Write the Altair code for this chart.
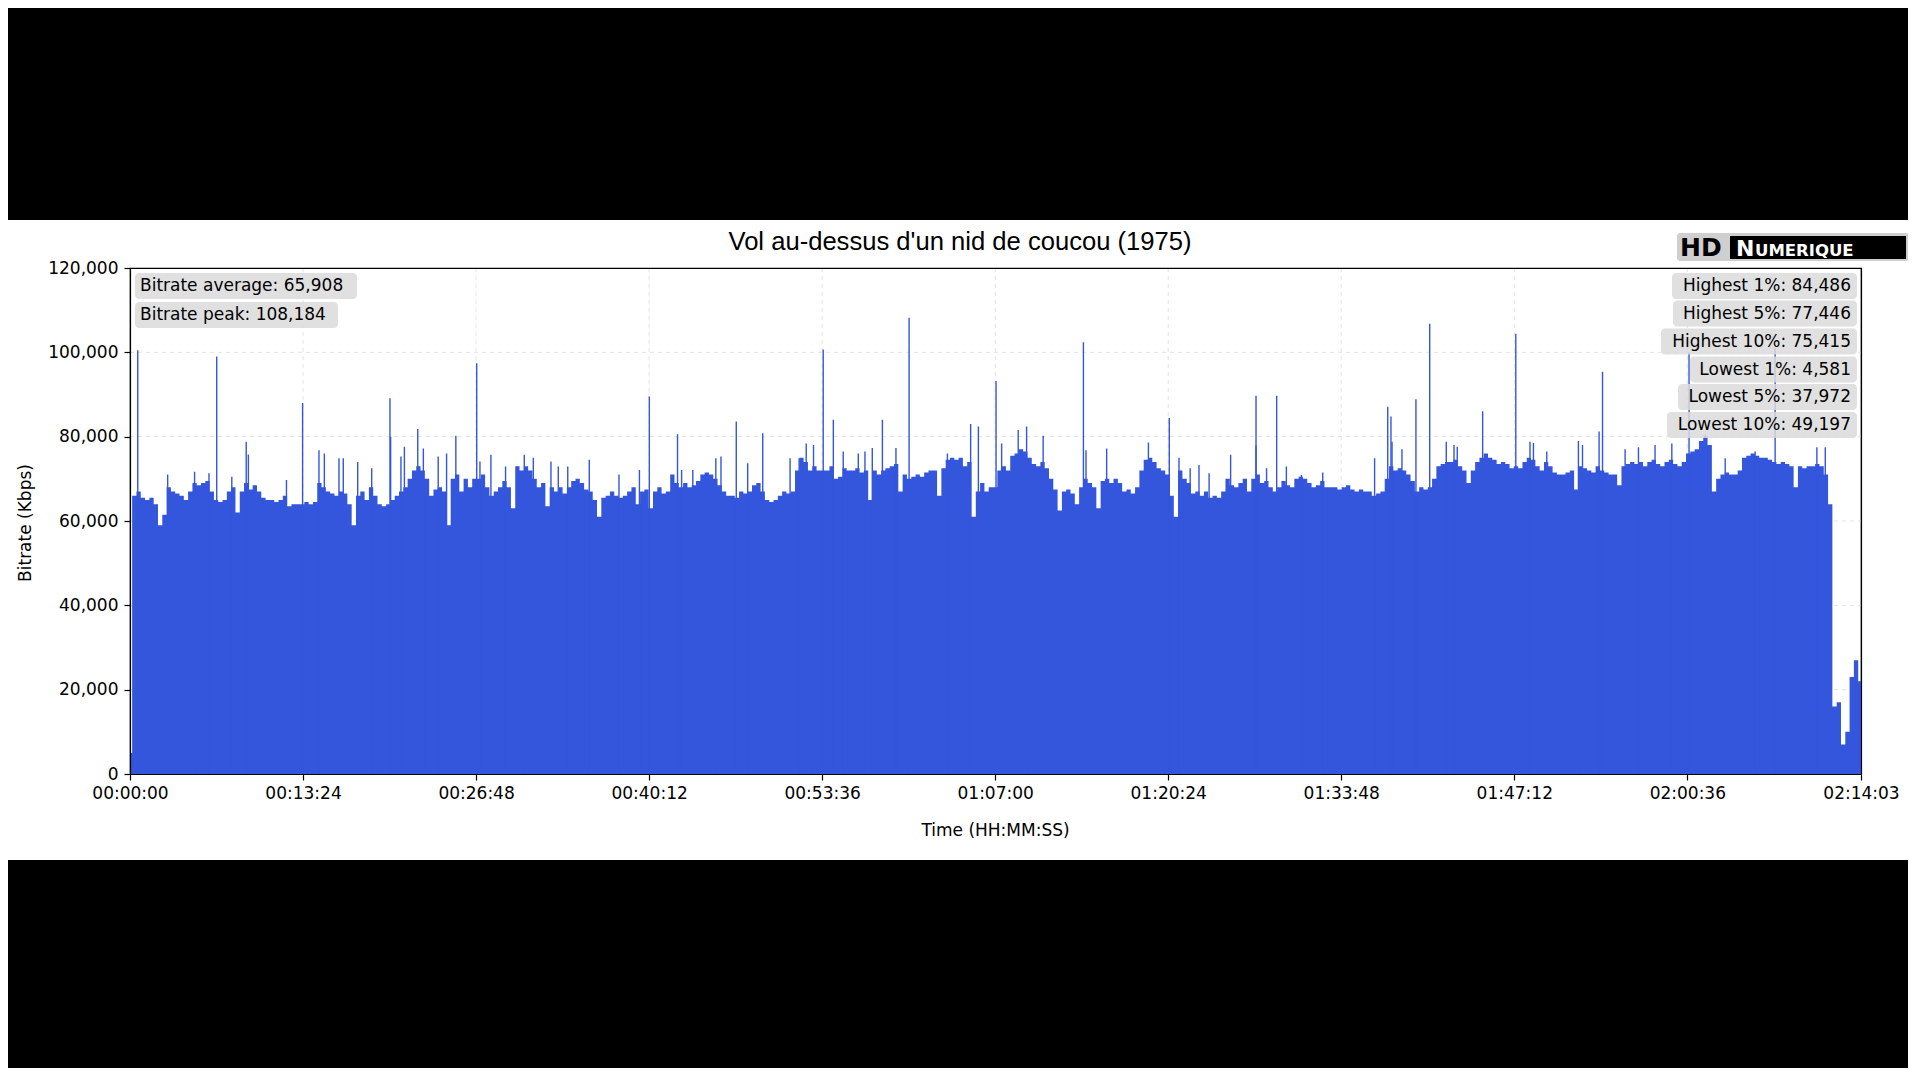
import altair as alt
import pandas as pd

# ---------------- data ----------------
title_text = "Vol au-dessus d'un nid de coucou (1975)"
step_seconds = 20
duration_seconds = 8043

# bitrate (thousands of Kbps) every 20 s
bitrate_k = [
    5, 66, 67, 65.5, 65, 65.5, 64, 59, 61.5, 68,
    67, 66.5, 66, 65, 67, 69, 68.5, 69, 69.5, 67,
    65, 64.5, 65, 67, 68, 62, 67, 69, 67.5, 68.5,
    67, 65.5, 65, 65, 64.5, 65, 66, 63.5, 64, 64,
    64, 64.5, 64, 64.5, 69, 68, 67, 66.5, 66, 67,
    66.5, 64, 59, 66, 67, 65, 68, 66, 64, 63.5,
    64, 65, 66, 67, 68, 70, 72, 73, 72, 70,
    66, 67.5, 68, 67, 59, 70, 71, 67, 70, 68,
    70, 70, 71, 68, 66, 67, 68, 69.5, 68, 63,
    73, 72, 73, 72, 70, 68, 69, 63.5, 68, 67,
    68, 66.5, 68, 69.5, 70, 69, 67.5, 67, 65, 61,
    65.5, 66, 67, 66, 65.5, 66, 67, 68, 64, 67,
    67.5, 63, 67, 68, 66.5, 67, 71, 69, 68, 69,
    68, 68.5, 69.5, 71, 71.5, 71, 70, 68.5, 67, 66,
    66, 65.5, 67, 66.5, 67, 68.5, 69, 67, 65, 64.5,
    65, 66, 67, 66.5, 67, 72, 75, 74, 72, 73,
    72, 72, 72, 73, 70, 70.5, 72.5, 72, 72, 72.5,
    71.5, 72, 65, 72, 71, 72, 72.5, 73, 73.5, 67,
    71, 70, 70.5, 71, 70.5, 71.5, 72, 72, 66, 72.5,
    74.5, 75, 74.5, 75, 73, 74, 61, 67, 69, 67,
    68, 68, 72, 73, 72, 75.5, 76, 77, 76.5, 75,
    73.5, 73, 74, 72.5, 70, 67.5, 62.5, 67, 67.5, 66.5,
    64, 68, 70, 69, 68, 63, 69.5, 70, 69, 70,
    69, 67, 67.5, 66.5, 68, 72, 74.5, 75, 74, 72.5,
    72, 71, 66, 61, 72, 70, 69, 66.5, 67, 66,
    67, 65.5, 66, 65.5, 67, 70, 68.5, 68, 69, 70,
    67, 70, 71, 69, 69.5, 68, 67, 68, 69.5, 68.5,
    68, 70, 70.5, 70, 69, 68, 68.5, 69.5, 68, 68,
    68, 67.5, 68, 68.5, 67.5, 67, 67.5, 67, 67, 66,
    66.5, 67, 70, 73, 72, 72.5, 72, 71, 69.5, 67,
    68, 67.5, 68, 70, 73, 73.5, 74, 74, 74.5, 73,
    72, 69, 72, 74, 75, 76, 75, 74.5, 73.5, 74,
    73.5, 72.5, 73, 72.5, 74, 75, 74.5, 73, 72, 74,
    73, 71.5, 71, 71, 71.5, 72, 67.5, 73, 72.5, 72,
    71.5, 73, 72, 71.5, 71, 71, 68.5, 73, 73.5, 74,
    73.5, 74, 73, 74, 74.5, 73.5, 73, 74, 74.5, 73.5,
    73, 74, 76, 76.5, 77, 79, 80, 78, 67, 70,
    71, 71.5, 71, 71, 72, 75, 75.5, 76, 75.5, 75,
    75, 74.5, 74, 73.5, 74, 73.5, 73, 68, 73, 72.5,
    73, 73, 73.5, 73, 71, 64, 16, 17, 7, 10,
    23, 27, 22, 22,
]

# isolated tall spikes (seconds, thousands of Kbps)
spike_seconds = [36, 403, 802, 1208, 1211, 1611, 2413, 2544, 2817, 2940, 3221,
                 3268, 3496, 3620, 3906, 3942, 4024, 4430, 4829, 5232, 5328,
                 5844, 5859, 5975, 6039, 6285, 6439, 6842, 7244, 7644]
spike_k = [100.5, 99, 88, 89.1, 80, 97.4, 89.5, 80.6, 83.6, 80.8, 100.7,
           84, 84, 108.2, 83, 82.4, 93.2, 102.4, 84.4, 89.7, 89.7,
           87.1, 84.8, 88.9, 106.8, 86, 104.4, 95.4, 100, 101]

# narrower local peaks
peak_seconds = [175, 300, 367, 473, 540, 550, 727, 878, 903, 971, 991, 1058, 1123,
                1259, 1275, 1337, 1363, 1432, 1471, 1514,
                1626, 1677, 1745, 1832, 1874, 1956, 1990, 2034, 2134, 2272, 2367,
                2563, 2615, 2722, 2746, 2870, 3067, 3109, 3142, 3176,
                3314, 3384, 3415, 3449, 3559, 3798, 4050, 4127, 4166, 4243, 4442,
                4538, 4732, 4874, 4926, 4967, 5014, 5114, 5232, 5281, 5373, 5443,
                5542, 5783, 5864, 5910, 6116, 6152, 6167,
                6505, 6521, 6583, 6730, 6749, 6826, 6947, 7009, 7086, 7164, 7319,
                7412, 7551, 7838, 7877]
peak_k = [71, 71.7, 71.3, 70.5, 78.8, 75.8, 69.7, 76.8, 76, 74.9, 74.9, 74, 72.5,
          75.3, 77.6, 81.8, 77.2, 75.3, 76, 80.2,
          74.1, 75.7, 72.9, 75.7, 75, 74.1, 72.9, 72.9, 74.5, 71, 72.1,
          72.1, 72.1, 74.9, 75.3, 73.7, 74.9, 74.9, 78.4, 78,
          76.5, 76, 76.5, 77.3, 77.3, 76, 78.4, 81.6, 82.4, 80.2, 76.8,
          77.2, 78.6, 75, 72.5, 73.3, 71.3, 75.7, 77.9, 72.5, 72.9, 70.9,
          71.5, 74.9, 78.8, 77, 78.8, 78, 77.6,
          78.8, 78.5, 76.5, 79, 78, 81.2, 77, 77.5, 78, 78.4, 80.5,
          74.9, 76.5, 77.5, 77.5]

tick_seconds = [0, 804, 1608, 2412, 3216, 4020, 4824, 5628, 6432, 7236, 8043]
tick_labels = ["00:00:00", "00:13:24", "00:26:48", "00:40:12", "00:53:36",
               "01:07:00", "01:20:24", "01:33:48", "01:47:12", "02:00:36", "02:14:03"]
y_ticks = [0, 20000, 40000, 60000, 80000, 100000, 120000]

left_stats = ["Bitrate average: 65,908", "Bitrate peak: 108,184"]
right_stats = ["Highest 1%: 84,486", "Highest 5%: 77,446", "Highest 10%: 75,415",
               "Lowest 1%: 4,581", "Lowest 5%: 37,972", "Lowest 10%: 49,197"]

# ---------------- layout (page pixels) ----------------
OX, OY = 130, 268          # page position of the plot's top-left corner
W, H = 1731, 506           # plot area
BLUE = "#3456dc"
LABEL_FONT = "DejaVu Sans"
GRID = "#dcdcdc"

left_box_x = (135, [357, 338])
left_box_y = [286, 315]
right_box_left = [1672, 1673, 1661, 1690, 1678, 1667]
right_box_right = 1857
right_box_y = [286, 313.5, 341.5, 369.5, 397, 425]
BOX_H = 26

# ---------------- tables ----------------
series = pd.DataFrame({
    "t": [min(i * step_seconds, duration_seconds) for i in range(len(bitrate_k))],
    "kbps": [v * 1000 for v in bitrate_k],
})
spikes = pd.DataFrame({"t": spike_seconds, "kbps": [v * 1000 for v in spike_k]})
peaks = pd.DataFrame({"t": peak_seconds, "kbps": [v * 1000 for v in peak_k]})

label_expr = " : ".join(
    f"datum.value == {s} ? '{l}'" for s, l in zip(tick_seconds, tick_labels)
) + " : ''"

xscale = alt.Scale(domain=[0, duration_seconds], nice=False, zero=False)
yscale = alt.Scale(domain=[0, 120000], nice=False)

# dashed grid lines, behind the marks
vgrid = alt.Chart(pd.DataFrame({"t": tick_seconds[1:-1]})).mark_rule(
    color=GRID, strokeDash=[4, 4], strokeWidth=0.8).encode(
    x=alt.X("t:Q", scale=xscale, axis=None), y=alt.value(0), y2=alt.value(H))
hgrid = alt.Chart(pd.DataFrame({"kbps": y_ticks[1:-1]})).mark_rule(
    color=GRID, strokeDash=[4, 4], strokeWidth=0.8).encode(
    y=alt.Y("kbps:Q", scale=yscale, axis=None), x=alt.value(0), x2=alt.value(W))

area = alt.Chart(series).mark_area(color=BLUE, interpolate="step", clip=True).encode(
    x=alt.X("t:Q", scale=xscale, axis=None),
    y=alt.Y("kbps:Q", scale=yscale, axis=None),
)

def rules(df, width, xaxis=None, yaxis=None):
    return alt.Chart(df).mark_rule(color=BLUE, strokeWidth=width, clip=True).encode(
        x=alt.X("t:Q", scale=xscale, axis=xaxis),
        y=alt.Y("kbps:Q", scale=yscale, axis=yaxis),
        y2=alt.datum(0),
    )

axis_common = dict(title=None, grid=False, zindex=2, domainColor="black",
                   domainWidth=1.2, tickColor="black", tickWidth=1.2, tickSize=6,
                   labelFont=LABEL_FONT, labelFontSize=17, labelColor="black")

# bottom / left axes, on top of the marks
peak_layer = rules(peaks, 1.4,
                   xaxis=alt.Axis(orient="bottom", values=tick_seconds, labelExpr=label_expr,
                                  labelPadding=5, labelFlush=False, labelOverlap=False,
                                  **axis_common),
                   yaxis=alt.Axis(orient="left", values=y_ticks, format=",d", labelPadding=6,
                                  **axis_common))
# top / right frame lines
frame_common = dict(title=None, grid=False, labels=False, ticks=False, zindex=2,
                    domainColor="black", domainWidth=1.2)
spike_layer = rules(spikes, 1.4,
                    xaxis=alt.Axis(orient="top", **frame_common),
                    yaxis=alt.Axis(orient="right", **frame_common))

# black letterbox bars
bars = alt.Chart(pd.DataFrame({"y": [-OY, 860 - OY], "y2": [220 - OY, 1080 - OY]})).mark_rect(
    color="black").encode(
    x=alt.value(-OX), x2=alt.value(1920 - OX),
    y=alt.Y("y:Q", scale=None, axis=None), y2="y2:Q",
)

# stat boxes
box_rows = []
for i, lab in enumerate(left_stats):
    box_rows.append({"x": left_box_x[0] - OX, "x2": left_box_x[1][i] - OX,
                     "y": left_box_y[i] - BOX_H / 2 - OY, "y2": left_box_y[i] + BOX_H / 2 - OY})
for i, lab in enumerate(right_stats):
    box_rows.append({"x": right_box_left[i] - OX, "x2": right_box_right - OX,
                     "y": right_box_y[i] - BOX_H / 2 - OY, "y2": right_box_y[i] + BOX_H / 2 - OY})
boxes = alt.Chart(pd.DataFrame(box_rows)).mark_rect(
    fill="#dadada", opacity=0.85, cornerRadius=4).encode(
    x=alt.X("x:Q", scale=None, axis=None), x2="x2:Q",
    y=alt.Y("y:Q", scale=None, axis=None), y2="y2:Q",
)

left_text = alt.Chart(pd.DataFrame({
    "label": left_stats, "x": [140 - OX] * len(left_stats),
    "y": [v - OY for v in left_box_y]})).mark_text(
    align="left", baseline="middle", font=LABEL_FONT, fontSize=17, color="black").encode(
    x=alt.X("x:Q", scale=None, axis=None), y=alt.Y("y:Q", scale=None, axis=None), text="label:N")

right_text = alt.Chart(pd.DataFrame({
    "label": right_stats, "x": [1851 - OX] * len(right_stats),
    "y": [v - OY for v in right_box_y]})).mark_text(
    align="right", baseline="middle", font=LABEL_FONT, fontSize=17, color="black").encode(
    x=alt.X("x:Q", scale=None, axis=None), y=alt.Y("y:Q", scale=None, axis=None), text="label:N")

one = pd.DataFrame({"a": [0]})
title = alt.Chart(one).mark_text(
    text=title_text, font="Liberation Sans", fontSize=25.6, color="black",
    align="center", baseline="middle").encode(x=alt.value(960 - OX), y=alt.value(242 - OY))
xtitle = alt.Chart(one).mark_text(
    text="Time (HH:MM:SS)", font=LABEL_FONT, fontSize=17, color="black",
    align="center", baseline="middle").encode(x=alt.value(995.5 - OX), y=alt.value(831 - OY))
ytitle = alt.Chart(one).mark_text(
    text="Bitrate (Kbps)", font=LABEL_FONT, fontSize=17, color="black", angle=270,
    align="center", baseline="middle").encode(x=alt.value(26 - OX), y=alt.value(523 - OY))

# logo
logo_shadow = alt.Chart(one).mark_rect(color="#cfcfcf", cornerRadius=3).encode(
    x=alt.value(1677 - OX), x2=alt.value(1909 - OX), y=alt.value(233 - OY), y2=alt.value(261 - OY))
logo_box = alt.Chart(one).mark_rect(color="black").encode(
    x=alt.value(1730 - OX), x2=alt.value(1906 - OX), y=alt.value(236 - OY), y2=alt.value(259 - OY))
logo_hd = alt.Chart(one).mark_text(
    text="HD", font="DejaVu Sans", fontWeight="bold", fontSize=25, color="black",
    align="left", baseline="middle").encode(x=alt.value(1680 - OX), y=alt.value(248 - OY))
logo_n = alt.Chart(one).mark_text(
    text="N", font="DejaVu Sans", fontWeight="bold", fontSize=22, color="white",
    align="left", baseline="alphabetic").encode(x=alt.value(1736 - OX), y=alt.value(256 - OY))
logo_rest = alt.Chart(one).mark_text(
    text="UMERIQUE", font="DejaVu Sans", fontWeight="bold", fontSize=16.5, color="white",
    align="left", baseline="alphabetic").encode(x=alt.value(1755 - OX), y=alt.value(256 - OY))

chart = alt.layer(
    vgrid, hgrid, area, peak_layer, spike_layer, boxes, left_text, right_text,
    title, xtitle, ytitle, logo_shadow, logo_box, logo_hd, logo_n, logo_rest, bars,
).resolve_scale(x="independent", y="independent").properties(
    width=W, height=H,
    autosize=alt.AutoSizeParams(type="none"),
    padding={"left": OX - 8, "top": OY - 8, "right": 1900 - (OX - 8) - W,
             "bottom": 1060 - (OY - 8) - H},
    background="white",
).configure_view(stroke="black", strokeWidth=1.2)

chart.save("out.html", embed_options={"renderer": "svg", "actions": False})
